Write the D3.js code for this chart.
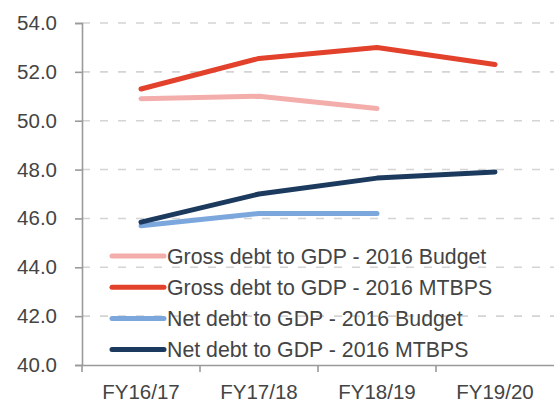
<!DOCTYPE html>
<html>
<head>
<meta charset="utf-8">
<script src="https://cdn.jsdelivr.net/npm/d3@7"></script>
<style>
  html, body { margin: 0; padding: 0; background: #fff; }
  svg { display: block; font-family: "Liberation Sans", Arial, Helvetica, sans-serif; }
</style>
</head>
<body>
<svg id="chart" width="554" height="400"></svg>
<script>
// Fiscal years on the x axis
const years = ["FY16/17", "FY17/18", "FY18/19", "FY19/20"];

// Debt-to-GDP ratios (% of GDP); null where a series has no projection
const grossBudget = [50.9, 51.0, 50.5, null];
const grossMTBPS  = [51.3, 52.55, 53.0, 52.3];
const netBudget   = [45.7, 46.2, 46.2, null];
const netMTBPS    = [45.85, 47.0, 47.65, 47.9];

// Y axis ticks
const yTicks = [40, 42, 44, 46, 48, 50, 52, 54];

const seriesNames = [
  "Gross debt to GDP - 2016 Budget",
  "Gross debt to GDP - 2016 MTBPS",
  "Net debt to GDP - 2016 Budget",
  "Net debt to GDP - 2016 MTBPS"
];
const seriesColors = ["#f3aeac", "#e2412b", "#7ba7dc", "#1c3a5e"];
const seriesValues = [grossBudget, grossMTBPS, netBudget, netMTBPS];

const svg = d3.select("#chart");
const plotLeft = 82, plotRight = 554, plotTop = 23, plotBottom = 365;

const x = d3.scaleBand().domain(years).range([plotLeft, plotRight]);
const y = d3.scaleLinear().domain([40, 54]).range([plotBottom, plotTop]);

const textColor = "#444";
const axisColor = "#9a9a9a";

// Dashed horizontal gridlines
svg.append("g")
  .selectAll("line")
  .data(yTicks.filter(t => t > 40))
  .join("line")
  .attr("x1", plotLeft).attr("x2", plotRight)
  .attr("y1", d => y(d)).attr("y2", d => y(d))
  .attr("stroke", "#d4d4d4")
  .attr("stroke-width", 1.6)
  .attr("stroke-dasharray", "8,10");

// Y axis
const yAxis = svg.append("g")
  .attr("transform", `translate(${plotLeft},0)`)
  .call(d3.axisLeft(y).tickValues(yTicks).tickFormat(d3.format(".1f")).tickSize(7).tickPadding(18));
yAxis.select(".domain").attr("stroke", axisColor).attr("stroke-width", 1.6);
yAxis.selectAll(".tick line").attr("stroke", axisColor).attr("stroke-width", 1.6);
yAxis.selectAll(".tick text")
  .attr("fill", textColor)
  .style("font-size", "20.5px")
  .style("font-family", "'Liberation Sans', Arial, sans-serif");

// X axis: labels centred in each band, tick marks on band boundaries
const xAxis = svg.append("g")
  .attr("transform", `translate(0,${plotBottom})`)
  .call(d3.axisBottom(x).tickSize(0).tickPadding(19));
xAxis.select(".domain").attr("stroke", axisColor).attr("stroke-width", 1.6);
xAxis.selectAll(".tick text")
  .attr("fill", textColor)
  .style("font-size", "20.5px")
  .style("font-family", "'Liberation Sans', Arial, sans-serif");
svg.append("g")
  .selectAll("line")
  .data(years)
  .join("line")
  .attr("x1", d => x(d)).attr("x2", d => x(d))
  .attr("y1", plotBottom).attr("y2", plotBottom + 7)
  .attr("stroke", axisColor)
  .attr("stroke-width", 1.6);

// Series lines
const line = d3.line()
  .defined(d => d.v != null)
  .x(d => x(d.year) + x.bandwidth() / 2)
  .y(d => y(d.v));

svg.append("g")
  .selectAll("path")
  .data(seriesValues.map((vals, i) => ({
    color: seriesColors[i],
    points: vals.map((v, j) => ({ year: years[j], v }))
  })))
  .join("path")
  .attr("d", d => line(d.points))
  .attr("fill", "none")
  .attr("stroke", d => d.color)
  .attr("stroke-width", 5)
  .attr("stroke-linecap", "round")
  .attr("stroke-linejoin", "round");

// Legend
const legend = svg.append("g").attr("transform", "translate(110,256)");
const rows = legend.selectAll("g")
  .data(seriesNames)
  .join("g")
  .attr("transform", (d, i) => `translate(0,${i * 31.2})`);
rows.append("line")
  .attr("x1", 2).attr("x2", 54)
  .attr("y1", 0).attr("y2", 0)
  .attr("stroke", (d, i) => seriesColors[i])
  .attr("stroke-width", 5)
  .attr("stroke-linecap", "round");
rows.append("text")
  .attr("x", 57)
  .attr("y", 0)
  .attr("dy", "0.36em")
  .attr("fill", textColor)
  .style("font-size", "21.3px")
  .text(d => d);
</script>
</body>
</html>
